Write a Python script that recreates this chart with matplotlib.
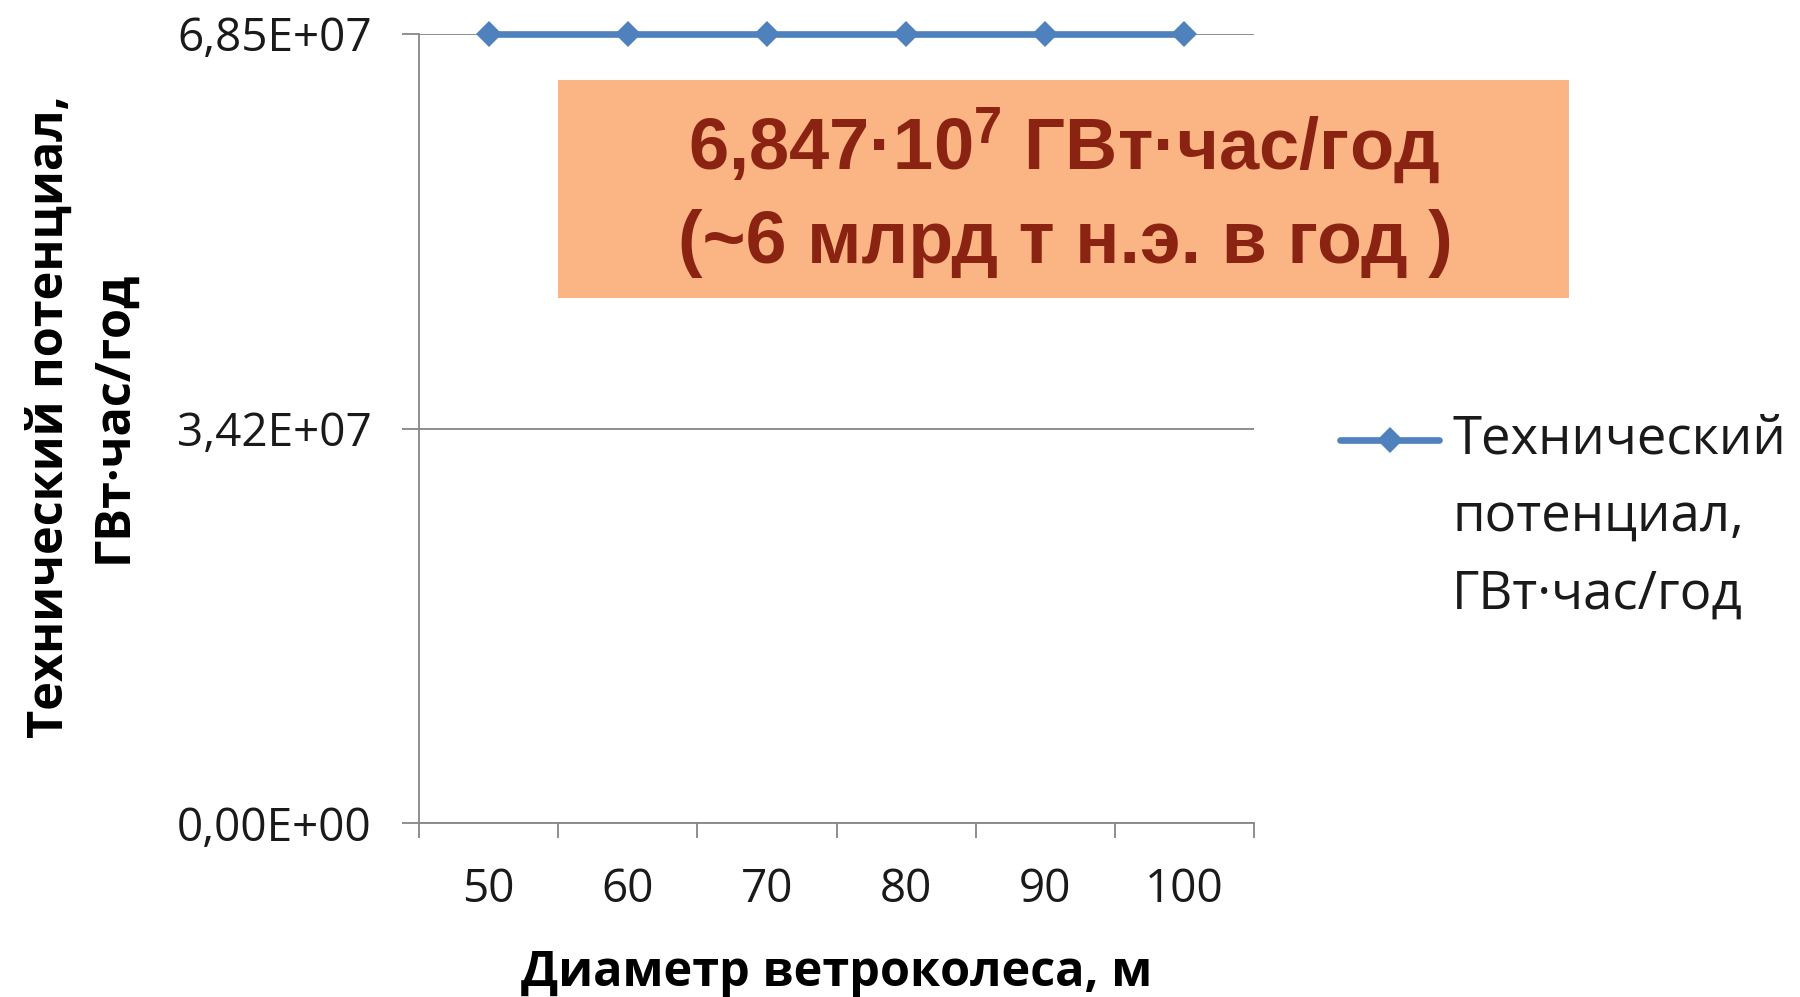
import matplotlib.pyplot as plt
from matplotlib.patches import Rectangle
from matplotlib.lines import Line2D

# данные
diameters = ["50", "60", "70", "80", "90", "100"]
potential = [6.847e7, 6.847e7, 6.847e7, 6.847e7, 6.847e7, 6.847e7]
y_ticks = [0, 3.4235e7, 6.847e7]
y_tick_labels = ["0,00E+00", "3,42E+07", "6,85E+07"]

series_label = ["Технический", "потенциал,", "ГВт·час/год"]
x_label = "Диаметр ветроколеса, м"
y_label = "Технический потенциал,\nГВт·час/год"
box_line1 = r"6,847·10$^{7}$ ГВт·час/год"
box_line2 = "(~6 млрд т н.э. в год )"

line_color = "#4F81BD"
axis_color = "#868686"
box_color = "#FBB584"
box_text_color = "#8B2312"

plt.rcParams['font.family'] = ['Open Sans', 'DejaVu Sans']
plt.rcParams['mathtext.fontset'] = 'custom'
plt.rcParams['mathtext.rm'] = 'Liberation Sans:bold'
plt.rcParams['mathtext.default'] = 'rm'

fig = plt.figure(figsize=(18, 9.97), dpi=100)
ax = fig.add_axes([0.2328, 0.1745, 0.4639, 0.7914])

x = list(range(len(diameters)))
ax.plot(x, potential, color=line_color, linewidth=4.8, marker='D', markersize=13,
        markeredgewidth=0, solid_capstyle='round', clip_on=False)

# оси
ax.set_xlim(-0.5, len(diameters) - 0.5)
ax.set_ylim(0, 6.847e7)
ax.set_yticks(y_ticks)
ax.set_yticklabels(y_tick_labels, fontsize=33, color="#1a1a1a")
ax.set_xticks(x)
ax.set_xticklabels(diameters, fontsize=33, color="#1a1a1a")
ax.set_xticks([i - 0.5 for i in range(len(diameters) + 1)], minor=True)
ax.tick_params(axis='x', which='major', length=0, pad=32)
ax.tick_params(axis='x', which='minor', length=11, width=1.3, color=axis_color)
ax.tick_params(axis='y', length=12, width=1.3, color=axis_color, pad=22)

for s in ['top', 'right']:
    ax.spines[s].set_visible(False)
for s in ['left', 'bottom']:
    ax.spines[s].set_color(axis_color)
    ax.spines[s].set_linewidth(1.3)
ax.grid(axis='y', color=axis_color, linewidth=1.3)
ax.set_axisbelow(True)

ax.set_xlabel(x_label, fontsize=35, fontweight='bold', va='center')
ax.xaxis.set_label_coords(0.5, -0.191)
fig.text(0.0457, 0.582, y_label, rotation=90, fontsize=35, fontweight='bold',
         ha='center', va='center', multialignment='center', linespacing=1.4)

# плашка с подписью
fig.patches.append(Rectangle((0.310, 0.701), 0.5617, 0.2187, transform=fig.transFigure,
                             facecolor=box_color, edgecolor='none', zorder=3))
box_font = ['Liberation Sans', 'DejaVu Sans']
fig.text(0.591, 0.853, box_line1, fontsize=52, fontweight='bold', color=box_text_color,
         ha='center', va='center', family=box_font, zorder=4)
fig.text(0.592, 0.756, box_line2, fontsize=53, fontweight='bold', color=box_text_color,
         ha='center', va='center', family=box_font, zorder=4)

# легенда (маркер на уровне первой строки, как в Excel)
fig.add_artist(Line2D([0.7445, 0.7995], [0.5587, 0.5587], transform=fig.transFigure,
                      color=line_color, linewidth=4.8, solid_capstyle='round'))
fig.add_artist(Line2D([0.772], [0.5587], transform=fig.transFigure, color=line_color,
                      marker='D', markersize=13, markeredgewidth=0))
for i, txt in enumerate(series_label):
    fig.text(0.8067, 0.5587 - i * 0.0775, txt, fontsize=38, ha='left', va='center',
             color="#1a1a1a")

fig.savefig("out.png", dpi=100)
